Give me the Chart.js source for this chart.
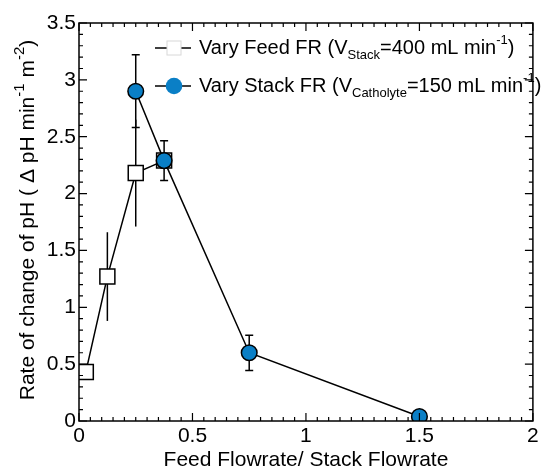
<!DOCTYPE html>
<html>
<head>
<meta charset="utf-8">
<script src="https://cdn.jsdelivr.net/npm/chart.js@4.4.0/dist/chart.umd.min.js"></script>
<style>
  html, body { margin: 0; padding: 0; background: #fff; }
  #wrap { width: 545px; height: 470px; }
</style>
</head>
<body>
<div id="wrap"><canvas id="chart"></canvas></div>
<script>
// Vary Feed FR (V_Stack = 400 mL/min)
const feedX = [0.03, 0.125, 0.25, 0.375];
const feedY = [0.43, 1.27, 2.18, 2.29];
const feedErr = [0, 0.39, 0.47, 0];
// Vary Stack FR (V_Catholyte = 150 mL/min)
const stackX = [0.25, 0.375, 0.75, 1.5];
const stackY = [2.9, 2.29, 0.60, 0.04];
const stackErr = [0.32, 0.175, 0.155, 0];

const xTicks = [0, 0.5, 1, 1.5, 2];
const yTicks = [0, 0.5, 1, 1.5, 2, 2.5, 3, 3.5];

const FONT = '"Liberation Sans", Arial, Helvetica, sans-serif';
const BLUE = '#0a7fc6';

function pts(xs, ys) {
    return xs.map(function(x, i) { return { x: x, y: ys[i] }; });
}

// draws text with sub/superscript pieces, returns width
function richText(ctx, x, y, parts, big, small, measureOnly) {
    let cx = x;
    parts.forEach(function(p) {
        const isSmall = p.s === 'sub' || p.s === 'sup';
        ctx.font = (isSmall ? small : big) + 'px ' + FONT;
        const dy = p.s === 'sub' ? 7 : (p.s === 'sup' ? -8 : 0);
        if (!measureOnly) ctx.fillText(p.t, cx, y + dy);
        cx += ctx.measureText(p.t).width;
    });
    return cx - x;
}

const extras = {
    id: 'extras',
    beforeDatasetsDraw(chart) {
        const ctx = chart.ctx;
        const xs = chart.scales.x, ys = chart.scales.y;
        ctx.save();
        ctx.strokeStyle = '#000';
        ctx.lineWidth = 1.5;
        // feed error bars (no caps)
        feedX.forEach(function(x, i) {
            if (!feedErr[i]) return;
            const px = xs.getPixelForValue(x);
            ctx.beginPath();
            ctx.moveTo(px, ys.getPixelForValue(feedY[i] - feedErr[i]));
            ctx.lineTo(px, ys.getPixelForValue(feedY[i] + feedErr[i]));
            ctx.stroke();
        });
        // stack error bars (with caps)
        stackX.forEach(function(x, i) {
            if (!stackErr[i]) return;
            const px = xs.getPixelForValue(x);
            const lo = ys.getPixelForValue(stackY[i] - stackErr[i]);
            const hi = ys.getPixelForValue(stackY[i] + stackErr[i]);
            ctx.beginPath();
            ctx.moveTo(px, lo); ctx.lineTo(px, hi);
            ctx.moveTo(px - 4, lo); ctx.lineTo(px + 4, lo);
            ctx.moveTo(px - 4, hi); ctx.lineTo(px + 4, hi);
            ctx.stroke();
        });
        ctx.restore();
    },
    afterDraw(chart) {
        const ctx = chart.ctx;
        const a = chart.chartArea;
        const xs = chart.scales.x, ys = chart.scales.y;
        ctx.save();
        ctx.strokeStyle = '#000';
        ctx.lineWidth = 1.5;
        ctx.strokeRect(a.left, a.top, a.right - a.left, a.bottom - a.top);

        // inward ticks on all four sides
        ctx.lineWidth = 1.2;
        ctx.beginPath();
        for (let i = 0; i <= 40; i++) {
            const v = i * 0.05;
            const len = i % 10 === 0 ? 8 : 4;
            const px = xs.getPixelForValue(v);
            ctx.moveTo(px, a.bottom); ctx.lineTo(px, a.bottom - len);
            ctx.moveTo(px, a.top); ctx.lineTo(px, a.top + len);
        }
        for (let i = 0; i <= 35; i++) {
            const v = i * 0.1;
            const len = i % 5 === 0 ? 8 : 4;
            const py = ys.getPixelForValue(v);
            ctx.moveTo(a.left, py); ctx.lineTo(a.left + len, py);
            ctx.moveTo(a.right, py); ctx.lineTo(a.right - len, py);
        }
        ctx.stroke();

        ctx.fillStyle = '#000';
        ctx.textBaseline = 'middle';

        // x title
        ctx.font = '21px ' + FONT;
        ctx.textAlign = 'center';
        ctx.fillText('Feed Flowrate/ Stack Flowrate', (a.left + a.right) / 2, 460);

        // y title (rotated)
        ctx.textAlign = 'left';
        const yParts = [
            { t: 'Rate of change of pH ( \u0394 pH min' }, { t: '-1', s: 'sup' },
            { t: ' m' }, { t: '-2', s: 'sup' }, { t: ')' }
        ];
        ctx.save();
        ctx.translate(28, 220);
        ctx.rotate(-Math.PI / 2);
        const w = richText(ctx, 0, 0, yParts, 21, 15, true);
        richText(ctx, -w / 2, 0, yParts, 21, 15);
        ctx.restore();

        // legend
        const rows = [
            { y: 48, kind: 'rect', parts: [
                { t: 'Vary Feed FR (V' }, { t: 'Stack', s: 'sub' },
                { t: '=400 mL min' }, { t: '-1', s: 'sup' }, { t: ')' } ] },
            { y: 86, kind: 'circle', parts: [
                { t: 'Vary Stack FR (V' }, { t: 'Catholyte', s: 'sub' },
                { t: '=150 mL min' }, { t: '-1', s: 'sup' }, { t: ')' } ] }
        ];
        rows.forEach(function(r) {
            ctx.strokeStyle = '#000';
            ctx.lineWidth = 1.5;
            ctx.beginPath();
            ctx.moveTo(155, r.y); ctx.lineTo(191, r.y);
            ctx.stroke();
            if (r.kind === 'rect') {
                ctx.fillStyle = '#fff';
                ctx.strokeStyle = '#d8d8d8';
                ctx.lineWidth = 1;
                ctx.fillRect(167, r.y - 7, 14, 14);
                ctx.strokeRect(167, r.y - 7, 14, 14);
            } else {
                ctx.fillStyle = BLUE;
                ctx.beginPath();
                ctx.arc(174, r.y, 8.3, 0, Math.PI * 2);
                ctx.fill();
            }
            ctx.fillStyle = '#000';
            richText(ctx, 199, r.y, r.parts, 20, 13);
        });
        ctx.restore();
    }
};

const ctx = document.getElementById('chart').getContext('2d');
const chart = new Chart(ctx, {
    type: 'scatter',
    data: {
        datasets: [{
            label: 'Vary Feed FR',
            data: pts(feedX, feedY),
            showLine: true,
            borderColor: '#000',
            borderWidth: 1.5,
            pointStyle: 'rect',
            pointRadius: 10.6,
            pointBackgroundColor: '#fff',
            pointBorderColor: '#000',
            pointBorderWidth: 1.5,
            order: 2
        }, {
            label: 'Vary Stack FR',
            data: pts(stackX, stackY),
            showLine: true,
            borderColor: '#000',
            borderWidth: 1.5,
            pointStyle: 'circle',
            pointRadius: 7.8,
            pointBackgroundColor: BLUE,
            pointBorderColor: '#000',
            pointBorderWidth: 1.5,
            order: 1
        }]
    },
    options: {
        responsive: true,
        maintainAspectRatio: false,
        animation: false,
        layout: { padding: { top: 23, right: 4, left: 0, bottom: 0 } },
        plugins: {
            legend: { display: false },
            tooltip: { enabled: false }
        },
        scales: {
            x: {
                type: 'linear',
                min: 0, max: 2,
                afterBuildTicks: function(s) { s.ticks = xTicks.map(function(v) { return { value: v }; }); },
                afterFit: function(s) { s.height = 49; s.paddingLeft = 0; s.paddingRight = 0; },
                grid: { display: false, drawTicks: false },
                border: { display: false },
                ticks: {
                    color: '#000', padding: 3, maxRotation: 0,
                    font: { family: FONT, size: 21 },
                    callback: function(v) { return String(v); }
                }
            },
            y: {
                type: 'linear',
                min: 0, max: 3.5,
                afterBuildTicks: function(s) { s.ticks = yTicks.map(function(v) { return { value: v }; }); },
                afterFit: function(s) { s.width = 79; s.paddingTop = 0; s.paddingBottom = 0; },
                grid: { display: false, drawTicks: false },
                border: { display: false },
                ticks: {
                    color: '#000', padding: 3,
                    font: { family: FONT, size: 21 },
                    callback: function(v) { return String(v); }
                }
            }
        }
    },
    plugins: [extras]
});
</script>
</body>
</html>
